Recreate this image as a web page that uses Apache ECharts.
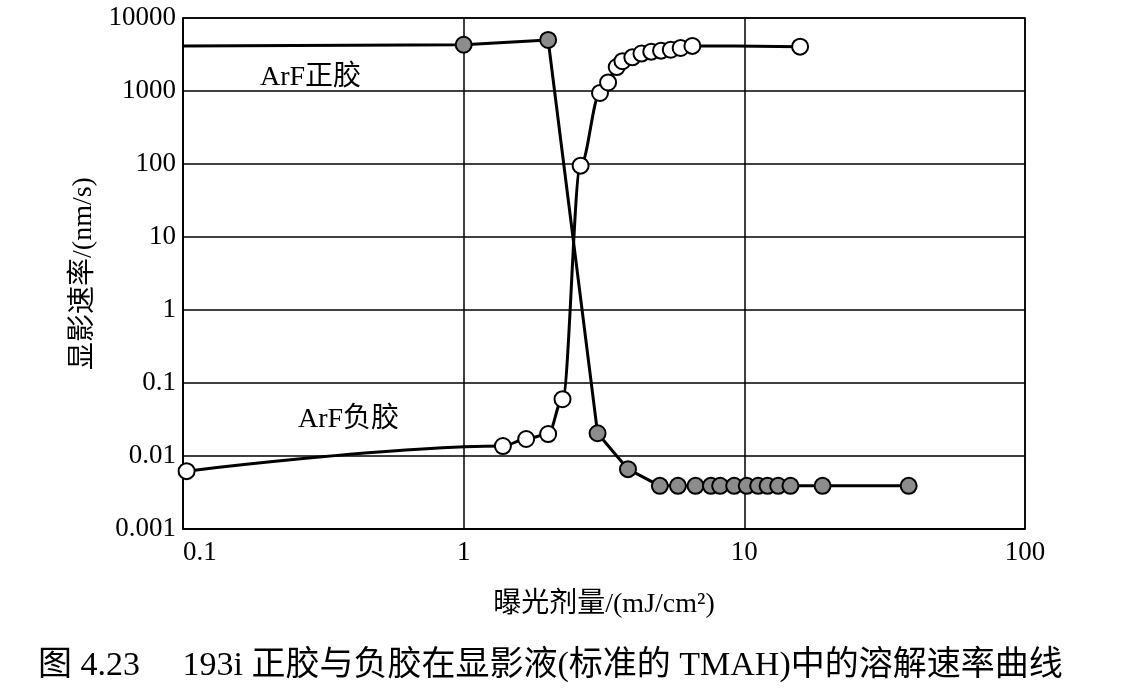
<!DOCTYPE html>
<html><head><meta charset="utf-8">
<script src="https://cdn.jsdelivr.net/npm/echarts@6/dist/echarts.min.js"></script>
<style>html,body{margin:0;padding:0;background:#fff}#c{width:1130px;height:695px}</style>
</head><body><div id="c"></div>
<script>
// ArF positive resist (gray filled markers); first point is the line start without marker
const posX = [0.1, 1.0, 2.0, 3.0, 3.85, 5.0, 5.8, 6.7, 7.6, 8.2, 9.2, 10.2, 11.2, 12.1, 13.2, 14.6, 19.0, 38.5];
const posY = [4150, 4300, 5000, 0.0205, 0.0066, 0.0039, 0.0039, 0.0039, 0.0039, 0.0039, 0.0039, 0.0039, 0.0039, 0.0039, 0.0039, 0.0039, 0.0039, 0.0039];
// ArF negative resist (open markers)
const negX = [0.103, 1.38, 1.67, 2.0, 2.25, 2.61, 3.06, 3.27, 3.51, 3.68, 3.99, 4.30, 4.66, 5.05, 5.47, 5.93, 6.53, 15.8];
const negY = [0.0062, 0.0137, 0.0171, 0.020, 0.060, 95, 940, 1310, 2130, 2560, 2890, 3260, 3460, 3570, 3680, 3890, 4150, 4050];
const yTicks = ['0.001', '0.01', '0.1', '1', '10', '100', '1000', '10000'];
const xTicks = ['0.1', '1', '10', '100'];
const labels = { pos: 'ArF正胶', neg: 'ArF负胶' };
const xName = '曝光剂量/(mJ/cm²)';
const yName = '显影速率/(nm/s)';
const caption = '图 4.23\u3000 193i 正胶与负胶在显影液(标准的 TMAH)中的溶解速率曲线';

const FONT = '"Liberation Serif", "Noto Sans CJK SC", serif';
const chart = echarts.init(document.getElementById('c'));

function fmt(v) { return String(+(+v).toPrecision(6)); }

const posData = posX.map((x, i) => i === 0 ? { value: [x, posY[i]], symbol: 'none' } : [x, posY[i]]);
const negData = negX.map((x, i) => [x, negY[i]]);

chart.setOption({
  animation: false,
  backgroundColor: '#fff',
  grid: { left: 183, top: 18, right: 105, bottom: 166, show: true, borderColor: '#000', borderWidth: 1.5, backgroundColor: 'transparent', containLabel: false },
  xAxis: {
    type: 'log', logBase: 10, min: 0.1, max: 100,
    name: xName, nameLocation: 'middle', nameGap: 62,
    nameTextStyle: { fontFamily: FONT, fontSize: 28, color: '#000' },
    axisLine: { show: true, lineStyle: { color: '#000', width: 1.5 } },
    axisTick: { show: false }, minorTick: { show: false },
    axisLabel: { fontFamily: FONT, fontSize: 27, color: '#000', margin: 10, alignMinLabel: 'left',
      formatter: v => { const s = fmt(v); return xTicks.includes(s) ? s : ''; } },
    splitLine: { show: true, lineStyle: { color: '#000', width: 1.5 } }
  },
  yAxis: {
    type: 'log', logBase: 10, min: 0.001, max: 10000,
    name: yName, nameLocation: 'middle', nameGap: 82, nameRotate: 90,
    nameTextStyle: { fontFamily: FONT, fontSize: 28, color: '#000' },
    axisLine: { show: true, lineStyle: { color: '#000', width: 1.5 } },
    axisTick: { show: false }, minorTick: { show: false },
    axisLabel: { fontFamily: FONT, fontSize: 27, color: '#000', margin: 7,
      formatter: v => { const s = fmt(v); return yTicks.includes(s) ? s : ''; } },
    splitLine: { show: true, lineStyle: { color: '#000', width: 1.5 } }
  },
  series: [
    {
      name: labels.pos, type: 'line', data: posData, smooth: false,
      symbol: 'circle', symbolSize: 16,
      lineStyle: { color: '#000', width: 3 },
      itemStyle: { color: '#8c8c8c', borderColor: '#000', borderWidth: 2 },
      z: 3
    },
    {
      name: labels.neg, type: 'line', data: negData, smooth: 0.35, smoothMonotone: 'x',
      symbol: 'circle', symbolSize: 16,
      lineStyle: { color: '#000', width: 3 },
      itemStyle: { color: '#fff', borderColor: '#000', borderWidth: 2 },
      z: 4
    }
  ],
  graphic: [
    { type: 'text', left: 260, top: 64, style: { text: labels.pos, font: '28px ' + FONT, fill: '#000' } },
    { type: 'text', left: 298, top: 406, style: { text: labels.neg, font: '28px ' + FONT, fill: '#000' } },
    { type: 'text', left: 38, top: 649, style: { text: caption, font: '34px ' + FONT, fill: '#000' } }
  ]
});
</script>
</body></html>
